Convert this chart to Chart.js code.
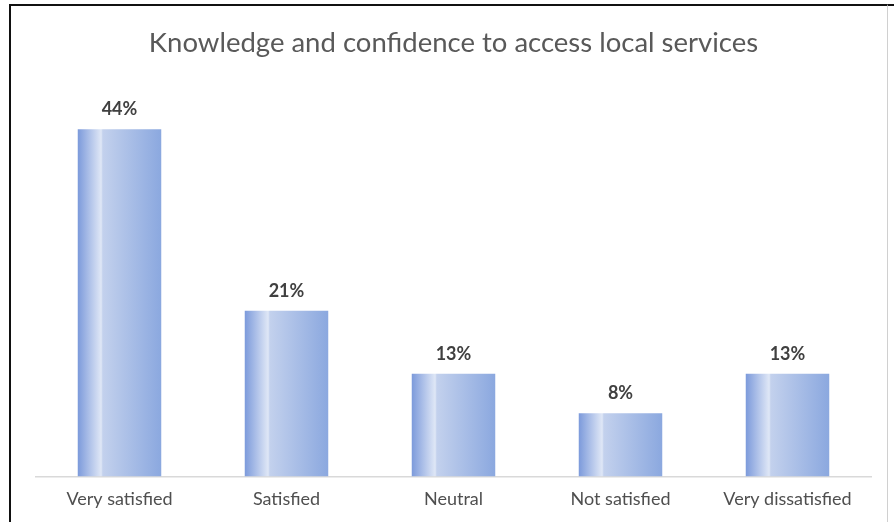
<!DOCTYPE html>
<html>
<head>
<meta charset="utf-8">
<script src="https://cdn.jsdelivr.net/npm/chart.js@4/dist/chart.umd.min.js"></script>
<style>
  html, body { margin: 0; padding: 0; background: #fff; }
  #wrap { position: relative; width: 894px; height: 522px; overflow: hidden; }
  #wrap canvas { position: absolute; left: 0; top: 0; }
  #frame {
    position: absolute; left: 9px; top: 4px; width: 876px; height: 530px;
    border-top: 2px solid #111; border-left: 2px solid #111; border-right: 1px solid #d0d0d0;
    pointer-events: none;
  }
  #frame:after {
    content: ''; position: absolute; top: -2px; left: 877px; width: 20px; border-top: 2px solid #111;
  }
</style>
</head>
<body>
<div id="wrap">
  <canvas id="barChart" width="894" height="530"></canvas>
  <div id="frame"></div>
</div>
<script>
var categories = ['Very satisfied', 'Satisfied', 'Neutral', 'Not satisfied', 'Very dissatisfied'];
var percentages = [44, 21, 13, 8, 13];
var valueLabels = ['44%', '21%', '13%', '8%', '13%'];

// horizontal shaded fill across each bar
function barFill(context) {
    var chart = context.chart;
    var xs = chart.scales.x;
    if (!chart.chartArea || !xs) return '#9fb5e3';
    var cx = xs.getPixelForValue(context.dataIndex);
    var half = (chart.chartArea.width / categories.length) * 0.25;
    var g = chart.ctx.createLinearGradient(cx - half, 0, cx + half, 0);
    g.addColorStop(0, '#7c9adb');
    g.addColorStop(0.28, '#dfe7f6');
    g.addColorStop(0.30, '#c3d1ed');
    g.addColorStop(1, '#8ba8df');
    return g;
}

var valueLabelPlugin = {
    id: 'valueLabels',
    afterDatasetsDraw: function (chart) {
        var ctx = chart.ctx;
        var meta = chart.getDatasetMeta(0);
        ctx.save();
        ctx.font = 'bold 18px Lato';
        ctx.fillStyle = '#404040';
        ctx.textAlign = 'center';
        ctx.textBaseline = 'middle';
        meta.data.forEach(function (bar, i) {
            ctx.fillText(valueLabels[i], bar.x, bar.y - 20);
        });
        ctx.restore();
    }
};

var ctx = document.getElementById('barChart').getContext('2d');
var myChart = new Chart(ctx, {
    type: 'bar',
    data: {
        labels: categories,
        datasets: [{
            data: percentages,
            backgroundColor: barFill,
            borderWidth: 0,
            barPercentage: 0.5,
            categoryPercentage: 1
        }]
    },
    options: {
        responsive: false,
        animation: false,
        layout: { padding: { left: 36, right: 23, top: 0, bottom: 8 } },
        plugins: {
            legend: { display: false },
            tooltip: { enabled: false },
            title: {
                display: true,
                text: 'Knowledge and confidence to access local services',
                color: '#595959',
                font: { family: 'Lato', size: 27.5, weight: 'normal', lineHeight: 1.2 },
                padding: { top: 27, bottom: 22 }
            }
        },
        scales: {
            x: {
                grid: { display: false, drawTicks: false },
                border: { display: true, color: '#d9d9d9', width: 1.5 },
                ticks: {
                    color: '#4f4f4f',
                    padding: 12,
                    font: { family: 'Lato', size: 18, lineHeight: 1.2 }
                }
            },
            y: {
                display: false,
                min: 0,
                max: 50
            }
        }
    },
    plugins: [valueLabelPlugin]
});
</script>
</body>
</html>
